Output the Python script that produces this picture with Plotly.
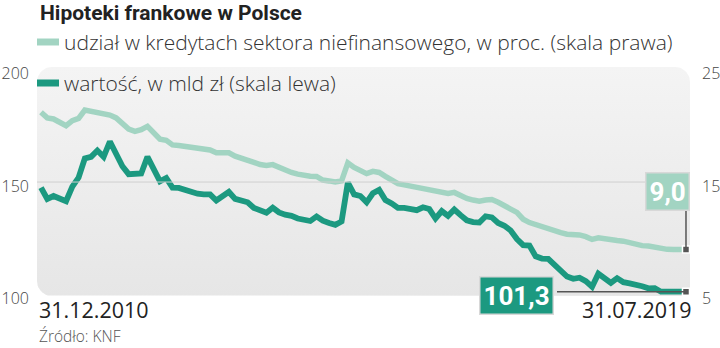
import numpy as np
import plotly.graph_objects as go

# ---------------- data (monthly, 31.12.2010 .. 31.07.2019) ----------------
date_labels = ["31.12.2010", "31.07.2019"]

value_bln = [
    147.5, 142.5, 143.8, 142.5, 141.5, 148.0, 152.0, 160.5, 161.2, 164.0,
    161.2, 168.0, 162.5, 157.0, 153.5, 153.8, 153.8, 161.2, 156.0, 150.3,
    151.8, 147.5, 147.4, 146.5, 145.5, 144.8, 144.5, 144.5, 141.8, 143.5,
    145.6, 142.5, 142.0, 141.0, 138.5, 137.5, 136.4, 138.6, 136.5, 135.5,
    135.0, 133.8, 133.0, 132.7, 134.7, 132.8, 131.8, 131.0, 132.5, 149.8,
    144.5, 143.8, 141.0, 145.0, 146.5, 142.0, 140.5, 138.5, 138.5, 138.0,
    137.5, 138.8, 138.0, 133.8, 137.1, 135.0, 137.8, 135.3, 133.0, 132.2,
    132.0, 134.8, 134.3, 131.8, 130.6, 128.5, 124.7, 122.0, 121.8, 117.0,
    116.0, 115.9, 113.2, 110.5, 108.0, 107.0, 107.5, 106.0, 103.5, 109.3,
    107.5, 105.2, 107.3, 105.5, 105.0, 104.5, 103.7, 102.8, 102.9, 101.3,
    101.4, 101.3, 101.1, 101.3,
]

share_pct = [
    21.2, 20.7, 20.6, 20.35, 20.0, 20.45, 20.65, 21.4, 21.3, 21.2,
    21.0, 20.95, 20.7, 20.25, 19.7, 19.5, 19.65, 19.95, 19.45, 18.8,
    18.7, 18.3, 18.25, 18.15, 18.05, 18.0, 17.9, 17.85, 17.6, 17.6,
    17.6, 17.3, 17.15, 17.0, 16.75, 16.55, 16.48, 16.55, 16.3, 16.1,
    15.85, 15.7, 15.55, 15.52, 15.5, 15.18, 15.1, 15.0, 15.1, 16.7,
    16.3, 16.05, 15.75, 15.95, 15.85, 15.5, 15.15, 14.85, 14.75, 14.65,
    14.6, 14.5, 14.3, 14.2, 14.15, 13.98, 14.08, 13.8, 13.55, 13.4,
    13.3, 13.4, 13.45, 13.2, 12.95, 12.6, 12.3, 11.7, 11.4, 11.2,
    11.0, 10.8, 10.6, 10.5, 10.37, 10.35, 10.3, 10.15, 9.9, 10.05,
    9.93, 9.8, 9.8, 9.75, 9.58, 9.45, 9.35, 9.32, 9.2, 9.12,
    9.02, 9.0, 9.0, 9.0,
]

left_ticks = [100, 150, 200]
right_ticks = [5, 15, 25]

# ---------------- style ----------------
DARK = "#1c9980"
LIGHT = "#a2d4c2"
TXT = "#333333"
FONT = "'Open Sans', Lato, sans-serif"

W, H = 720, 348
ML, MR, MT, MB = 37, 30, 67, 52
PW, PH = W - ML - MR, H - MT - MB

n = len(value_bln)
idx = list(range(n))
XR = [-0.64, n - 1 + 0.64]
YL = [99.38, 201.1]
YR = [5 + (YL[0] - 100) * 0.2, 5 + (YL[1] - 100) * 0.2]

# rounded background panel (decoration) in data coords of the base subplot
def rounded_rect(r_px=15):
    rx = r_px / PW * (XR[1] - XR[0])
    ry = r_px / PH * (YL[1] - YL[0])
    x0, x1, y0, y1 = XR[0], XR[1], YL[0], YL[1]
    xs, ys = [], []
    t = np.linspace(0, np.pi / 2, 12)
    xs += list(x1 - rx + rx * np.sin(t)); ys += list(y1 - ry + ry * np.cos(t))
    xs += [x1]; ys += [y0]
    xs += list(x0 + rx - rx * np.sin(t)); ys += list(y0 + ry - ry * np.cos(t))
    xs += list(x0 + rx - rx * np.cos(t)); ys += list(y1 - ry + ry * np.sin(t))
    xs.append(xs[0]); ys.append(ys[0])
    return xs, ys

bx, by = rounded_rect()

fig = go.Figure()
fig.add_trace(go.Scatter(
    x=bx, y=by, mode="lines", fill="toself", line=dict(width=0, color="rgba(0,0,0,0)"),
    fillgradient=dict(type="vertical", colorscale=[[0, "#e6e6e6"], [1, "#f4f4f4"]]),
    hoverinfo="skip", showlegend=False,
))
fig.add_trace(go.Scatter(
    x=idx, y=value_bln, mode="lines", line=dict(color=DARK, width=5.8),
    name="wartość, w mld zł (skala lewa)", showlegend=False,
))
fig.add_trace(go.Scatter(
    x=idx, y=share_pct, mode="lines", line=dict(color=LIGHT, width=5.5),
    yaxis="y2", name="udział", showlegend=False,
))
fig.add_trace(go.Scatter(
    x=[idx[-1]], y=[value_bln[-1]], mode="markers",
    marker=dict(symbol="square", size=7, color="#555555", line=dict(color="white", width=1.5)),
    showlegend=False, hoverinfo="skip", cliponaxis=False,
))
fig.add_trace(go.Scatter(
    x=[idx[-1]], y=[share_pct[-1]], mode="markers", yaxis="y2",
    marker=dict(symbol="square", size=7, color="#555555", line=dict(color="white", width=1.5)),
    showlegend=False, hoverinfo="skip", cliponaxis=False,
))

fig.update_layout(
    width=W, height=H, autosize=False,
    margin=dict(l=ML, r=MR, t=MT, b=MB, pad=0, autoexpand=False),
    paper_bgcolor="white", plot_bgcolor="rgba(0,0,0,0)",
    font=dict(family=FONT, color=TXT),
    xaxis=dict(range=XR, visible=False, fixedrange=True, automargin=False),
    yaxis=dict(range=YL, tickvals=left_ticks, showgrid=False, zeroline=False,
               showline=False, ticks="", tickfont=dict(size=16, color="#444", weight=300),
               ticklabelstandoff=7, ticklabelshift=4, automargin=False),
    yaxis2=dict(range=YR, tickvals=right_ticks, overlaying="y", side="right",
                showgrid=False, zeroline=False, showline=False, ticks="",
                tickfont=dict(size=16, color="#444", weight=300), ticklabelstandoff=11,
                ticklabelshift=4, automargin=False),
    showlegend=False,
)

fig.add_shape(type="line", xref="paper", yref="y", x0=0, x1=1, y0=150, y1=150,
              line=dict(color="#cfcfcf", width=1), layer="above")

def pxx(px):
    return (px - ML) / PW

def pxy(py):
    return (MT + PH - py) / PH

# title
fig.add_annotation(text="<b>Hipoteki frankowe w Polsce</b>", xref="paper", yref="paper",
                   x=pxx(38), y=pxy(13), xanchor="left", yanchor="middle", align="left",
                   showarrow=False, font=dict(family="Roboto, sans-serif", size=21, color="#222"))
# legend
fig.add_shape(type="line", xref="paper", yref="paper", x0=pxx(37), x1=pxx(59),
              y0=pxy(42), y1=pxy(42), line=dict(color=LIGHT, width=7))
fig.add_annotation(text="udział w kredytach sektora niefinansowego, w proc. (skala prawa)",
                   xref="paper", yref="paper", x=pxx(62), y=pxy(42), xanchor="left",
                   yanchor="middle", align="left", showarrow=False,
                   font=dict(size=21, color=TXT, weight=300))
fig.add_shape(type="line", xref="paper", yref="paper", x0=pxx(37), x1=pxx(59),
              y0=pxy(83), y1=pxy(83), line=dict(color=DARK, width=7))
fig.add_annotation(text="wartość, w mld zł (skala lewa)",
                   xref="paper", yref="paper", x=pxx(62), y=pxy(83), xanchor="left",
                   yanchor="middle", align="left", showarrow=False,
                   font=dict(size=21, color=TXT, weight=300))

# date labels
fig.add_annotation(text=date_labels[0], xref="paper", yref="paper", x=pxx(37), y=pxy(309),
                   xanchor="left", yanchor="middle", align="left", showarrow=False,
                   font=dict(size=21.5, color="#222", weight=500))
fig.add_annotation(text=date_labels[1], xref="paper", yref="paper", x=pxx(694), y=pxy(309),
                   xanchor="right", yanchor="middle", align="right", showarrow=False,
                   font=dict(size=21.5, color="#222", weight=500))

# source
fig.add_annotation(text="Źródło: KNF", xref="paper", yref="paper", x=pxx(37), y=pxy(336),
                   xanchor="left", yanchor="middle", align="left", showarrow=False,
                   font=dict(size=15.5, color="#555", weight=300))

# value callouts
def fmt(v):
    return f"{v:.1f}".replace(".", ",")

fig.add_shape(type="line", xref="paper", yref="y", x0=pxx(557), x1=1 - 4 / PW,
              y0=value_bln[-1], y1=value_bln[-1], line=dict(color="#555", width=1.5))
fig.add_annotation(text=f"<b>{fmt(value_bln[-1])}</b>", xref="paper", yref="paper",
                   x=pxx(516.5), y=pxy(295), xanchor="center", yanchor="middle", showarrow=False,
                   bgcolor=DARK, bordercolor="#d8d8d8", borderwidth=1.5, borderpad=3,
                   font=dict(family="Roboto, sans-serif", size=26, color="white"))

fig.add_shape(type="line", xref="x", yref="paper", x0=idx[-1], x1=idx[-1],
              y0=pxy(209), y1=pxy(249), line=dict(color="#555", width=1.5))
fig.add_annotation(text=f"<b>{fmt(share_pct[-1])}</b>", xref="paper", yref="paper",
                   x=pxx(667.5), y=pxy(191), xanchor="center", yanchor="middle", showarrow=False,
                   bgcolor=LIGHT, bordercolor="#d8d8d8", borderwidth=1.5, borderpad=3,
                   font=dict(family="Roboto, sans-serif", size=26, color="white"))

fig.write_html("out.html")
